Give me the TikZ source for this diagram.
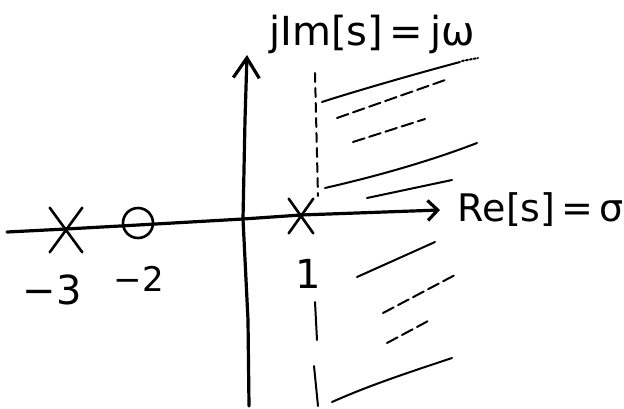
\documentclass[tikz,border=0pt]{standalone}
\usepackage{fontspec}
\setmainfont{DejaVu Sans}
\usetikzlibrary{arrows.meta,shapes.misc}
\begin{document}
\begin{tikzpicture}[x=1pt,y=-1pt,line cap=round,line join=round,
  axis/.style={line width=3.2pt},
  hatch/.style={line width=2pt},
  hdash/.style={hatch,dash pattern=on 12pt off 5pt},
  pole/.style={cross out,draw,line width=2.6pt,inner sep=0pt},
  zero/.style={circle,draw,line width=2.6pt,inner sep=0pt,minimum size=30pt},
  lbl/.style={inner sep=0pt}]
\useasboundingbox (0,0) rectangle (624,408);
% poles and zero
\node[pole,minimum width=30pt,minimum height=42pt] (p3) at (66,230) {};
\node[zero] (z2) at (138,223) {};
\node[pole,minimum width=22pt,minimum height=32pt] (p1) at (301,216) {};
% axes
\coordinate (hl) at (7,232);
\coordinate (o) at (243,219);
\coordinate (ht) at (440,210);
\coordinate (vb) at (249,406);
\coordinate (vt) at (247,55);
\draw[axis,-{Straight Barb[length=10pt,width=20pt]}] (hl) -- (66,229) -- (138,225) -- (o) -- (301,215) -- (ht);
\draw[axis,-{Straight Barb[length=20pt,width=26pt]}] (vb) -- (248,320) -- (o) -- (245,120) -- (vt);
% boundary
\draw[hatch,dash pattern=on 9pt off 6pt] (315,73) -- (318,196);
\draw[hatch] (315,302) -- (317,340);
\draw[hatch] (314,366) -- (318,406);
% hatching
\draw[hatch] (322,102) .. controls (340,96) and (400,78) .. (460,62);
\draw[hatch,dotted] (462,61) -- (478,58);
\draw[hdash] (337,118) -- (448,79);
\draw[hdash] (353,142) -- (425,119);
\draw[hatch] (325,188) .. controls (360,180) and (420,165) .. (477,143);
\draw[hatch] (367,198) -- (452,180);
\draw[hatch] (357,277) -- (435,242);
\draw[hdash] (383,313) -- (455,275);
\draw[hdash] (387,343) -- (430,320);
\draw[hatch] (332,402) .. controls (370,385) and (410,372) .. (452,358);
% labels
\node[lbl,font=\fontsize{40}{40}\selectfont] (im) at (372,34) {jIm[s]\,=\,jω};
\node[lbl,font=\fontsize{38}{38}\selectfont] (re) at (541,210) {Re[s]\,=\,σ};
\node[lbl,font=\fontsize{40}{40}\selectfont] (m3) at (52,290) {−3};
\node[lbl,font=\fontsize{34}{34}\selectfont] (m2) at (139,279) {−2};
\node[lbl,font=\fontsize{40}{40}\selectfont] (one) at (308,274) {1};
\end{tikzpicture}
\end{document}
